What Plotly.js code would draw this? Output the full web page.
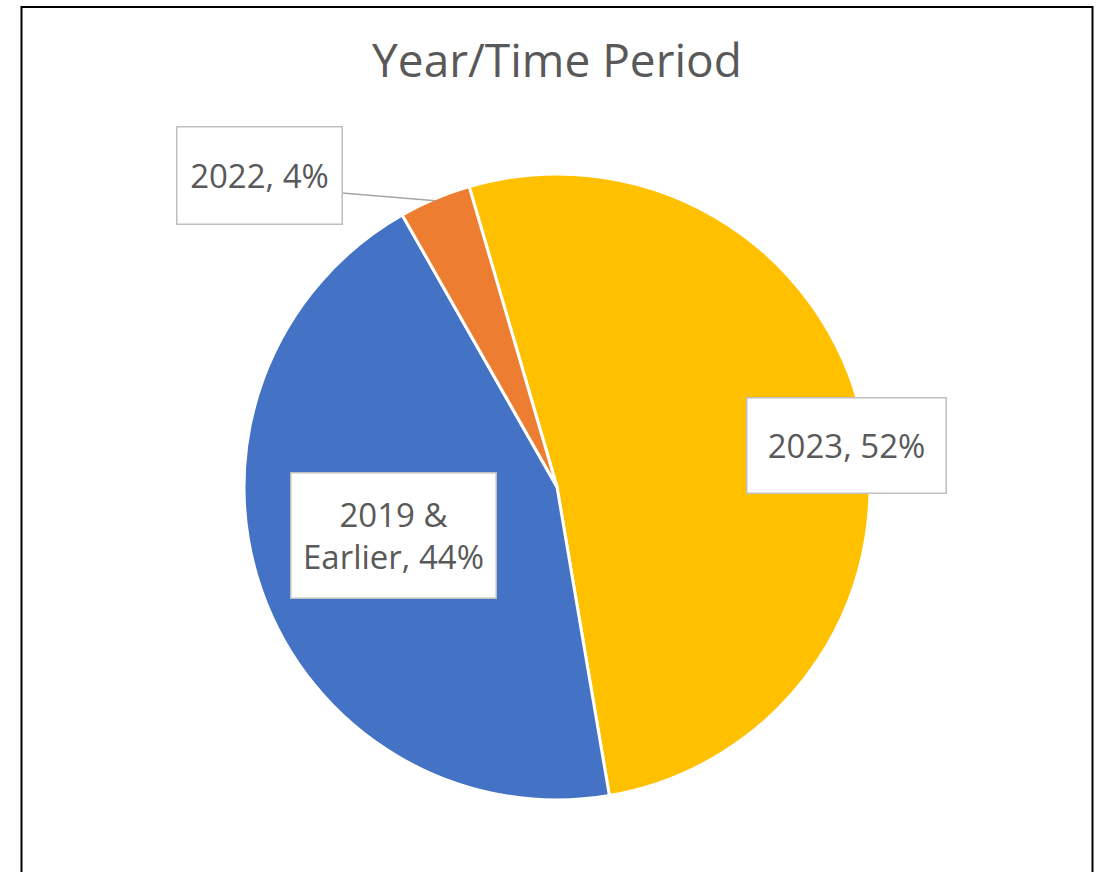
<!DOCTYPE html>
<html>
<head>
<meta charset="utf-8">
<script src="https://cdn.plot.ly/plotly-3.0.1.min.js"></script>
<style>
  html, body { margin: 0; padding: 0; background: #ffffff; }
  #chart { width: 1107px; height: 872px; }
</style>
</head>
<body>
<div id="chart"></div>
<script>
// ---- data ----
const categories = ['2023', '2019 & Earlier', '2022'];
const counts = [14, 12, 1];
const sliceColors = ['#FFC000', '#4472C4', '#ED7D31'];
const chartTitle = 'Year/Time Period';

// ---- layout helpers ----
const W = 1107, H = 872;
const px = x => x / W;
const py = y => 1 - y / H;

const total = counts.reduce((a, b) => a + b, 0);
const pctText = counts.map(v => Math.round(v / total * 100) + '%');
const labelText = categories.map((c, i) => c + ', ' + pctText[i]);
labelText[1] = '2019 &amp;<br>Earlier, ' + pctText[1];

// pie geometry (pixels)
const cx = 557, cy = 487, R = 311;
const rotationDeg = -16.3;

// mid-angle of 2022 slice (clockwise from 12 o'clock), for leader line target
let acc = 0;
const midAngles = counts.map(v => { const m = rotationDeg + (acc + v / 2) / total * 360; acc += v; return m; });
const a22 = midAngles[2] * Math.PI / 180;
const tx = cx + R * Math.sin(a22), ty = cy - R * Math.cos(a22);

const labelBoxes = [
  {cx: 846.5, cy: 445.5, w: 198, h: 94},
  {cx: 393.5, cy: 535.5, w: 204, h: 124},
  {cx: 259.5, cy: 175.5, w: 164, h: 96}
];

const textColor = '#595959';
const fontFam = '"Open Sans", "Liberation Sans", sans-serif';

const Rd = R + 2; // domain half-size (plotly trims slightly for outline)
const trace = {
  type: 'pie',
  labels: categories,
  values: counts,
  sort: false,
  direction: 'clockwise',
  rotation: rotationDeg,
  textinfo: 'none',
  hoverinfo: 'none',
  marker: { colors: sliceColors, line: { color: '#ffffff', width: 3 } },
  domain: { x: [px(cx - Rd), px(cx + Rd)], y: [py(cy + Rd), py(cy - Rd)] },
  showlegend: false
};

const annotations = labelBoxes.map((b, i) => ({
  xref: 'paper', yref: 'paper',
  x: px(b.cx), y: py(b.cy),
  xanchor: 'center', yanchor: 'middle',
  text: labelText[i],
  showarrow: false,
  width: b.w, height: b.h,
  bgcolor: '#ffffff',
  bordercolor: '#BFBFBF', borderwidth: 1.5, borderpad: 0,
  font: { family: fontFam, size: 33, color: textColor }
}));

const layout = {
  width: W, height: H,
  margin: { l: 0, r: 0, t: 0, b: 0 },
  paper_bgcolor: '#ffffff',
  title: {
    text: chartTitle,
    x: px(557), xanchor: 'center', xref: 'paper',
    y: py(61), yanchor: 'middle', yref: 'paper',
    font: { family: fontFam, size: 46, color: textColor }
  },
  annotations: annotations,
  shapes: [
    { type: 'line', xref: 'paper', yref: 'paper',
      x0: px(342), y0: py(193), x1: px(tx), y1: py(ty),
      line: { color: '#A6A6A6', width: 1.5 } },
    { type: 'rect', xref: 'paper', yref: 'paper',
      x0: px(21.5), y0: py(H + 20), x1: px(1092.5), y1: py(7),
      line: { color: '#000000', width: 2 } }
  ]
};

Plotly.newPlot('chart', [trace], layout, { staticPlot: true, displayModeBar: false });
</script>
</body>
</html>
